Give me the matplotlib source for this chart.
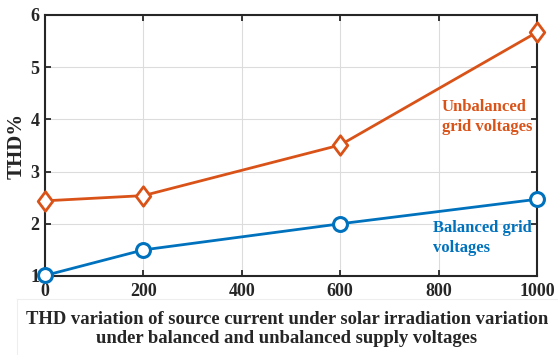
import matplotlib
matplotlib.use("Agg")
import matplotlib.pyplot as plt
from matplotlib.lines import Line2D
from matplotlib.path import Path

irradiation = [0, 200, 600, 1000]
thd_unbalanced = [2.44, 2.54, 3.51, 5.67]
thd_balanced = [1.01, 1.50, 2.00, 2.47]
xticks = [0, 200, 400, 600, 800, 1000]
yticks = [1, 2, 3, 4, 5, 6]

orange = "#D95319"
blue = "#0072BD"

plt.rcParams['font.family'] = ['Liberation Serif', 'DejaVu Serif']
plt.rcParams['font.weight'] = 'bold'

diamond = Path([(0, 1), (0.75, 0), (0, -1), (-0.75, 0), (0, 1)],
               [Path.MOVETO, Path.LINETO, Path.LINETO, Path.LINETO, Path.CLOSEPOLY])

fig = plt.figure(figsize=(5.58, 3.55), dpi=100)
ax = fig.add_axes([45/558, 1-276/355, (537-45)/558, (276-15)/355])

ax.plot(irradiation, thd_unbalanced, color=orange, lw=2.0, marker=diamond, ms=14,
        mfc='white', mec=orange, mew=2.0, clip_on=False, zorder=3)
ax.plot(irradiation, thd_balanced, color=blue, lw=2.0, marker='o', ms=10,
        mfc='white', mec=blue, mew=2.2, clip_on=False, zorder=3)

ax.set_xlim(0, 1000)
ax.set_ylim(1, 6)
ax.set_xticks(xticks)
ax.set_yticks(yticks)
ax.set_xticklabels([str(v) for v in xticks], fontsize=13, fontweight='bold', color='#262626')
ax.set_yticklabels([str(v) for v in yticks], fontsize=13, fontweight='bold', color='#262626')
ax.tick_params(axis='x', direction='in', top=True, length=4, width=1.3, color='#262626', pad=5)
ax.tick_params(axis='y', direction='in', right=True, length=4, width=1.3, color='#262626', pad=4)
for s in ax.spines.values():
    s.set_linewidth(1.5)
    s.set_color('#262626')
ax.grid(True, color='#dcdcdc', lw=0.8)
ax.set_axisbelow(True)

ax.set_ylabel('THD%', fontsize=15, fontweight='bold', color='#262626', labelpad=3)

ax.text(0.806, 0.61, 'Unbalanced\ngrid voltages', transform=ax.transAxes, color=orange,
        fontsize=12, fontweight='bold', ha='left', va='center', linespacing=1.3)
ax.text(0.788, 0.145, 'Balanced grid\nvoltages', transform=ax.transAxes, color=blue,
        fontsize=12, fontweight='bold', ha='left', va='center', linespacing=1.3)

fig.text(287/558, 1-329/355, 'THD variation of source current under solar irradiation variation\nunder balanced and unbalanced supply voltages',
         ha='center', va='center', fontsize=13.4, fontweight='bold', color='#262626', linespacing=1.2)

# faint frame around caption
fig.add_artist(Line2D([17/558, 1], [1-299/355, 1-299/355], color='#eeeeee', lw=0.8))
fig.add_artist(Line2D([17/558, 17/558], [0, 1-299/355], color='#eeeeee', lw=0.8))

fig.savefig('out.png', dpi=100)
